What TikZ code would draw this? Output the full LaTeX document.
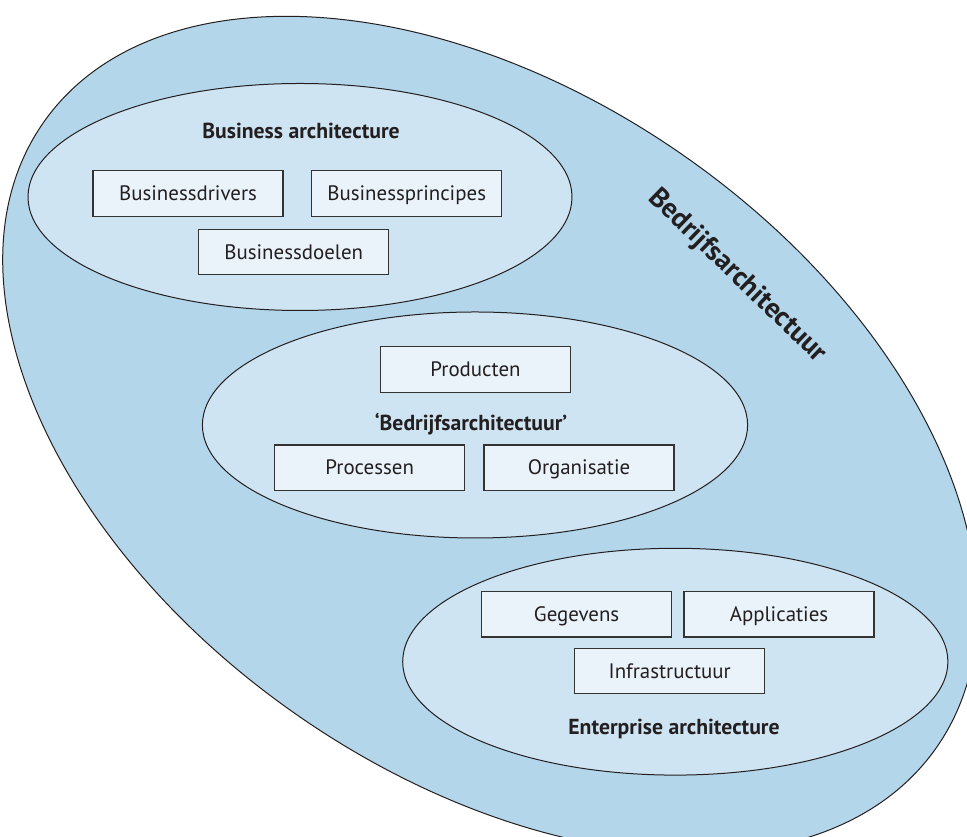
\documentclass[tikz,border=0pt]{standalone}
\usepackage{fontspec}
\setmainfont{PT Sans}
\definecolor{outerfill}{HTML}{B3D6EA}
\definecolor{innerfill}{HTML}{CFE4F2}
\definecolor{boxfill}{HTML}{EAF2FA}
\definecolor{ink}{HTML}{231F20}
\definecolor{boxline}{HTML}{333333}
\begin{document}
\begin{tikzpicture}[x=1pt,y=1pt,
  itembox/.style={draw=boxline, line width=1.2pt, fill=boxfill, minimum width=190pt, minimum height=45.5pt,
    inner sep=0pt, text height=19.5pt, text depth=5pt, font=\fontsize{20.9}{24}\selectfont, text=ink},
  groupellipse/.style={draw=ink, line width=1pt, fill=innerfill},
  grouplabel/.style={font=\fontsize{21.7}{26}\selectfont\bfseries, text=ink, anchor=base, inner sep=0pt}]
\useasboundingbox (0,0) rectangle (967,837);
\begin{scope}
\clip (0,0) rectangle (967,837);
\draw[draw=ink, line width=1pt, fill=outerfill, rotate around={-35:(490,402)}] (490,402) ellipse [x radius=545, y radius=340];
\end{scope}
\node[font=\fontsize{28}{32}\selectfont\bfseries, text=ink, rotate=-44] (outerlabel) at (737,561) {Bedrijfsarchitectuur};
% Business architecture
\draw[groupellipse] (300,640) ellipse [x radius=272, y radius=113.5];
\node[grouplabel] (buslabel) at (301,698.3) {Business architecture};
\node[itembox] (drivers) at (188,643.5) {Businessdrivers};
\node[itembox] (principes) at (406.7,643.5) {Businessprincipes};
\node[itembox] (doelen) at (293.7,585) {Businessdoelen};
% Bedrijfsarchitectuur
\draw[groupellipse] (475,412) ellipse [x radius=272.6, y radius=113];
\node[itembox] (producten) at (475.5,467.5) {Producten};
\node[grouplabel] (midlabel) at (471,406.6) {‘Bedrijfsarchitectuur’};
\node[itembox] (processen) at (369.7,369.3) {Processen};
\node[itembox] (organisatie) at (579,369.3) {Organisatie};
% Enterprise architecture
\draw[groupellipse] (675.3,175.3) ellipse [x radius=272.6, y radius=113.4];
\node[itembox] (gegevens) at (576.6,222.7) {Gegevens};
\node[itembox] (applicaties) at (779,222.7) {Applicaties};
\node[itembox] (infra) at (669.7,166) {Infrastructuur};
\node[grouplabel] (entlabel) at (674,102) {Enterprise architecture};
\end{tikzpicture}
\end{document}
